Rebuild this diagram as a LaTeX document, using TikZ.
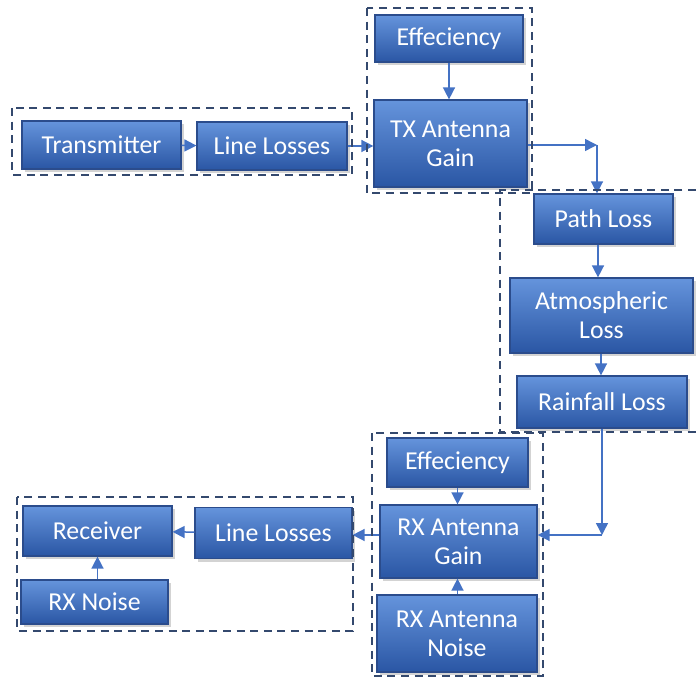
\documentclass[tikz,border=0pt]{standalone}
\usepackage{fontspec}
\setmainfont{Carlito}
\usepackage{tikz}
\usetikzlibrary{arrows.meta,shadows}

\definecolor{boxtop}{HTML}{6594DC}
\definecolor{boxbottom}{HTML}{2A56A4}
\definecolor{boxedge}{HTML}{2B4C8C}
\definecolor{flowblue}{HTML}{4472C4}
\definecolor{groupnavy}{HTML}{34496E}

\tikzset{
    block/.style={draw=boxedge, line width=0.6pt, top color=boxtop, bottom color=boxbottom,
        text=white, align=center, inner sep=0pt,
        font=\fontsize{12.9}{14.5}\selectfont,
        drop shadow={shadow xshift=1.6pt, shadow yshift=-1.6pt, opacity=0.35}},
    flow/.style={draw=flowblue, line width=0.75pt, -{Triangle[length=6pt,width=6pt]}},
    group/.style={draw=groupnavy, line width=1.45pt, dash pattern=on 4pt off 2.8pt}
}

\begin{document}
\begin{tikzpicture}[x=0.5pt,y=-0.5pt]
    \useasboundingbox (0,0) rectangle (696,678);

    % Transmitter side
    \node[block, minimum width=79.5pt, minimum height=24pt] (tx) at (101.5,145) {Transmitter};
    \node[block, minimum width=75pt, minimum height=24pt] (txline) at (272,146) {Line Losses};
    \node[block, minimum width=74pt, minimum height=23.5pt] (txeff) at (449,38.5) {Effeciency};
    \node[block, minimum width=76.5pt, minimum height=43.5pt] (txgain) at (450.5,143.5) {TX Antenna\\Gain};
    \coordinate (txturn) at (597,145);

    % Propagation path
    \node[block, minimum width=69.5pt, minimum height=25pt] (path) at (603.5,219) {Path Loss};
    \node[block, minimum width=91.5pt, minimum height=37.5pt] (atmo) at (601.5,315.5) {Atmospheric\\Loss};
    \node[block, minimum width=85pt, minimum height=26pt] (rain) at (602,402) {Rainfall Loss};
    \coordinate (rxturn) at (602,535);

    % Receiver side
    \node[block, minimum width=70.5pt, minimum height=24.5pt] (rxeff) at (457.5,462.5) {Effeciency};
    \node[block, minimum width=78.5pt, minimum height=36.5pt] (rxgain) at (458.5,541.5) {RX Antenna\\Gain};
    \node[block, minimum width=80pt, minimum height=38.5pt] (rxnoise) at (457,633.5) {RX Antenna\\Noise};
    \node[block, minimum width=78.5pt, minimum height=25.5pt] (rxline) at (273.5,533) {Line Losses};
    \node[block, minimum width=74.5pt, minimum height=25pt] (receiver) at (97.5,531) {Receiver};
    \node[block, minimum width=73.5pt, minimum height=22pt] (noise) at (94.5,602) {RX Noise};

    % Signal flow
    \draw[flow] (tx) -- (txline);
    \draw[flow] (txline.east) -- (txgain.west |- txline.east);
    \draw[flow] (txeff) -- (txeff |- txgain.north);
    \draw[flow] (txgain.east |- txturn) -- (txturn);
    \draw[flow] (txturn) -- (txturn |- path.north);
    \draw[flow] (path.south -| 598,0) -- (598,0 |- atmo.north);
    \draw[flow] (atmo.south -| 601,0) -- (601,0 |- rain.north);
    \draw[flow] (rain) -- (rxturn);
    \draw[flow] (rxturn) -- (rxturn -| rxgain.east);
    \draw[flow] (rxeff) -- (rxeff |- rxgain.north);
    \draw[flow] (rxnoise.north -| rxeff) -- (rxgain.south -| rxeff);
    \draw[flow] (rxgain.west |- rxturn) -- (rxline.east |- rxturn);
    \draw[flow] (rxline) -- (receiver);
    \draw[flow] (noise.north -| receiver) -- (receiver.south);

    % Dashed groups
    \draw[group] (12,108) rectangle (352,175);
    \draw[group] (367,8) rectangle (532,193);
    \draw[group] (696,190) -- (500,190) -- (500,432) -- (696,432);
    \draw[group] (372,433) rectangle (543,676);
    \draw[group] (17,497) rectangle (353,631);
\end{tikzpicture}
\end{document}
